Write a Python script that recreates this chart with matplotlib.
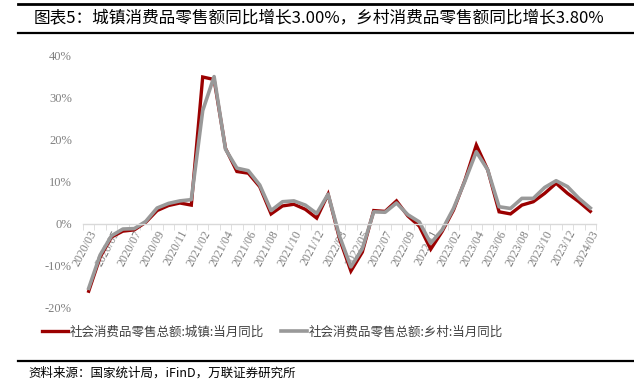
import matplotlib
matplotlib.use("Agg")
import matplotlib.pyplot as plt
from matplotlib.lines import Line2D
import numpy as np

plt.rcParams['font.family'] = ['Noto Sans CJK SC', 'DejaVu Sans']

months = ["2020/03", "2020/04", "2020/05", "2020/06", "2020/07", "2020/08",
          "2020/09", "2020/10", "2020/11", "2020/12",
          "2021/02", "2021/03", "2021/04", "2021/05", "2021/06", "2021/07",
          "2021/08", "2021/09", "2021/10", "2021/11", "2021/12",
          "2022/02", "2022/03", "2022/04", "2022/05", "2022/06", "2022/07",
          "2022/08", "2022/09", "2022/10", "2022/11", "2022/12",
          "2023/02", "2023/03", "2023/04", "2023/05", "2023/06", "2023/07",
          "2023/08", "2023/09", "2023/10", "2023/11", "2023/12",
          "2024/02", "2024/03"]
urban = [-16.0, -7.9, -3.1, -1.7, -1.4, 0.4, 3.2, 4.4, 5.0, 4.5,
         35.0, 34.4, 18.0, 12.5, 12.1, 8.9, 2.4, 4.3, 4.7, 3.5, 1.4,
         7.1, -3.5, -11.2, -6.7, 3.2, 3.0, 5.5, 1.9, -0.5, -6.0, -1.8,
         3.3, 10.4, 18.8, 12.9, 2.9, 2.4, 4.5, 5.3, 7.3, 9.7, 7.3,
         5.3, 3.0]
rural = [-15.3, -7.4, -2.8, -1.2, -1.1, 0.6, 3.8, 4.9, 5.5, 5.8,
         27.0, 35.1, 17.8, 13.3, 12.7, 9.3, 3.2, 5.3, 5.5, 4.5, 2.5,
         7.1, -2.9, -10.2, -5.9, 2.9, 2.8, 5.0, 2.2, 0.5, -4.6, -1.4,
         3.7, 10.2, 17.2, 12.9, 4.1, 3.7, 6.1, 6.1, 8.7, 10.3, 8.9,
         6.1, 3.8]
yticks = [-20, -10, 0, 10, 20, 30, 40]

title = "图表5：城镇消费品零售额同比增长3.00%，乡村消费品零售额同比增长3.80%"
label_urban = "社会消费品零售总额:城镇:当月同比"
label_rural = "社会消费品零售总额:乡村:当月同比"
source = "资料来源：国家统计局，iFinD，万联证券研究所"

W, H = 634, 386
fig = plt.figure(figsize=(W / 100, H / 100), dpi=100)
ax = fig.add_axes([83 / W, 1 - 308 / H, (596 - 83) / W, (308 - 56) / H])

x = np.arange(len(months))
ax.plot(x, urban, color="#9b0000", lw=2.4, label=label_urban,
        solid_joinstyle="miter")
ax.plot(x, rural, color="#999999", lw=2.6, label=label_rural)

ax.set_xlim(-0.5, len(months) - 0.5)
ax.set_ylim(-20, 40)
ax.set_yticks(yticks)
ax.set_yticklabels([f"{v}%" for v in yticks], family="Liberation Serif",
                   fontsize=9, color="#808080")
ax.tick_params(axis="y", length=0, pad=8)

for s in ["top", "right", "left"]:
    ax.spines[s].set_visible(False)
ax.spines["bottom"].set_position(("data", 0))
ax.spines["bottom"].set_color("#d9d9d9")
ax.spines["bottom"].set_linewidth(1)

ax.set_xticks(x[::2])
ax.set_xticklabels(months[::2], rotation=62, ha="right", va="top",
                   rotation_mode="anchor", family="Liberation Serif",
                   fontsize=8.5, color="#808080")
ax.tick_params(axis="x", which="major", length=0, pad=3)
ax.set_xticks(np.arange(len(months) + 1) - 0.5, minor=True)
ax.tick_params(axis="x", which="minor", length=4, color="#d9d9d9",
               direction="out")

fig.legend(loc="center left", bbox_to_anchor=(42 / W, 1 - 332 / H),
           ncol=2, frameon=False, fontsize=9, handlelength=2.1,
           handletextpad=0.15, columnspacing=1.3, borderpad=0,
           borderaxespad=0, labelcolor="#404040")

# header / footer rules
for y, lw in [(4, 2.0), (33, 1.6), (361, 1.6)]:
    fig.add_artist(Line2D([18 / W, 1], [1 - y / H, 1 - y / H],
                          transform=fig.transFigure, color="black", lw=lw))

fig.text(34 / W, 1 - 18 / H, title, fontsize=12, va="center", ha="left",
         color="black")
fig.text(28 / W, 1 - 373 / H, source, fontsize=9, va="center", ha="left",
         style="italic", color="black")

fig.savefig("out.png", dpi=100)
